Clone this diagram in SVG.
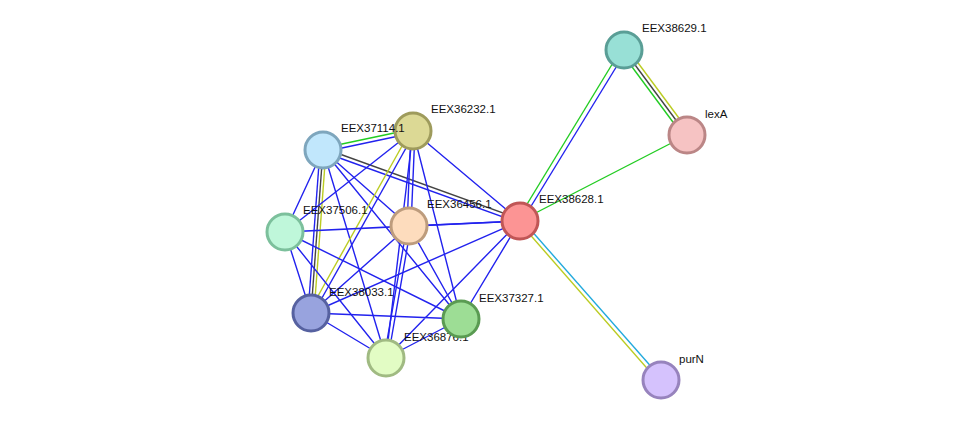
<svg xmlns="http://www.w3.org/2000/svg" width="976" height="426" viewBox="0 0 976 426">
<style>
.e{stroke-width:1.4;fill:none}
.b{stroke:#2222ee}.g{stroke:#22cc22}.y{stroke:#bbcc22}.k{stroke:#444}.c{stroke:#22aadd}
.n{stroke-width:3}
text{font-family:"Liberation Sans",Arial,sans-serif;font-size:11.5px;fill:#111}
</style>
<rect width="976" height="426" fill="#fff"/>
<g id="edges">
<path class="e g" d="M323 148L413 129"/><path class="e b" d="M323 152L413 133"/>
<path class="e k" d="M323 148L520 219"/><path class="e b" d="M323 152L520 223"/>
<path class="e b" d="M320 150L308 313"/><path class="e k" d="M323 150L311 313"/><path class="e y" d="M326 150L314 313"/>
<path class="e b" d="M323 150L285 232M323 150L409 226M323 150L461 319M323 150L386 358"/>
<path class="e b" d="M413 131L285 232"/>
<path class="e y" d="M411 130L309 312"/><path class="e b" d="M415 132L313 314"/>
<path class="e b" d="M411 131L407 226M415 131L411 226"/>
<path class="e b" d="M413 131L461 319M413 131L520 221M413 131L386 358"/>
<path class="e b" d="M285 232L409 226M285 232L520 221M285 232L311 313M285 232L461 319M285 232L386 358"/>
<path class="e b" d="M409 226L311 313M409 226L461 319M407 226L384 358M411 226L388 358M409 226L520 221"/>
<path class="e b" d="M311 313L520 221M311 313L461 319M311 313L386 358M461 319L386 358M520 221L461 319M520 221L386 358"/>
<path class="e g" d="M518 219L622 48"/><path class="e b" d="M522 221L626 51"/>
<path class="e y" d="M627 48L690 133"/><path class="e k" d="M624 50L687 135"/><path class="e g" d="M621 52L684 137"/>
<path class="e g" d="M520 221L687 135"/>
<path class="e y" d="M519 222L659 382"/><path class="e c" d="M522 220L662 379"/>
</g>
<g id="n38629"><circle class="n" cx="624" cy="50" r="18" fill="#98e0d6" stroke="#5a9e96"/><text x="642" y="32">EEX38629.1</text></g>
<g id="nlexA"><circle class="n" cx="687" cy="135" r="18" fill="#f6c3c3" stroke="#bb8686"/><text x="705" y="118">lexA</text></g>
<g id="n38628"><circle class="n" cx="520" cy="221" r="18" fill="#fc9494" stroke="#c05656"/><text x="539" y="203">EEX38628.1</text></g>
<g id="npurN"><circle class="n" cx="661" cy="380" r="18" fill="#d5c2fd" stroke="#9783bd"/><text x="679" y="363">purN</text></g>
<g id="n36232"><circle class="n" cx="413" cy="131" r="18" fill="#dcd995" stroke="#9e9b5c"/><text x="431" y="113">EEX36232.1</text></g>
<g id="n37114"><circle class="n" cx="323" cy="150" r="18" fill="#c1e7fc" stroke="#7ea6bd"/><text x="341" y="132">EEX37114.1</text></g>
<g id="n37506"><circle class="n" cx="285" cy="232" r="18" fill="#bff7da" stroke="#7cc09c"/><text x="303" y="214">EEX37506.1</text></g>
<g id="n36456"><circle class="n" cx="409" cy="226" r="18" fill="#fddcbd" stroke="#bd9c7d"/><text x="427" y="208">EEX36456.1</text></g>
<g id="n36876"><circle class="n" cx="386" cy="358" r="18" fill="#e2fcc4" stroke="#a0ba82"/><text x="404" y="341">EEX36876.1</text></g>
<g id="n37327"><circle class="n" cx="461" cy="319" r="18" fill="#9ddd95" stroke="#5a9b52"/><text x="479" y="302">EEX37327.1</text></g>
<g id="n38033"><circle class="n" cx="311" cy="313" r="18" fill="#98a3de" stroke="#5661a0"/><text x="329" y="296">EEX38033.1</text></g>
</svg>
